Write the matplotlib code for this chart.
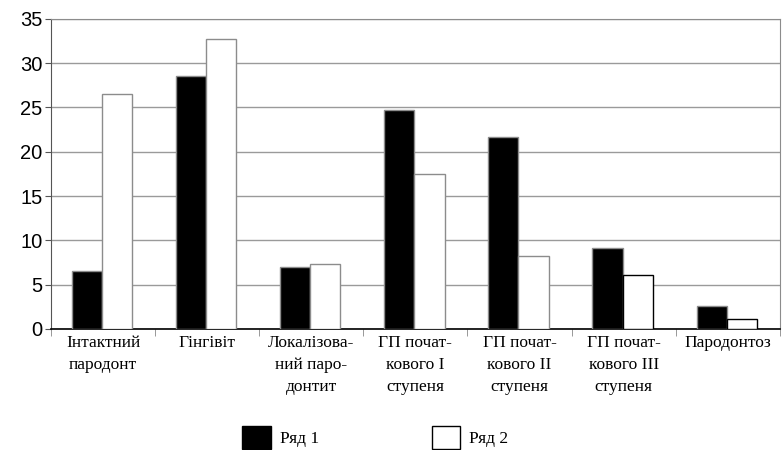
import matplotlib.pyplot as plt
import numpy as np

# дані з діаграми
kategorii = ["Інтактний\nпародонт", "Гінгівіт", "Локалізова-\nний паро-\nдонтит",
             "ГП почат-\nкового I\nступеня", "ГП почат-\nкового II\nступеня",
             "ГП почат-\nкового III\nступеня", "Пародонтоз"]
ryad1 = [6.5, 28.6, 7.0, 24.7, 21.7, 9.1, 2.6]
ryad2 = [26.5, 32.7, 7.3, 17.5, 8.2, 6.1, 1.1]
yticks = [0, 5, 10, 15, 20, 25, 30, 35]

fig = plt.figure(figsize=(7.82, 4.5), dpi=100)
ax = fig.add_axes([0.0652, 0.269, 0.932, 0.689])

x = np.arange(len(kategorii))
w = 0.29
b1 = ax.bar(x - w / 2 - 0.01, ryad1, w, color="black", edgecolor="#8c8c8c", linewidth=1,
            label="Ряд 1", zorder=3)
b2 = ax.bar(x + w / 2 - 0.01, ryad2, w, color="white", edgecolor="#8c8c8c", linewidth=1,
            label="Ряд 2", zorder=3)
b2[5].set_edgecolor("black")
b2[6].set_edgecolor("black")

ax.set_xlim(-0.5, len(kategorii) - 0.5)
ax.set_ylim(0, 35)
ax.set_yticks(yticks)
ax.yaxis.grid(True, color="#9a9a9a", linewidth=1, zorder=0)
ax.tick_params(axis="y", labelsize=14.5, length=4, color="#555555", pad=2,
               labelfontfamily="Liberation Sans")

ax.set_xticks(x)
ax.set_xticklabels(kategorii, family="Liberation Serif", fontsize=12.5, linespacing=1.5,
                   va="top")
ax.set_xticks(np.arange(len(kategorii) + 1) - 0.5, minor=True)
ax.tick_params(axis="x", which="major", length=0, pad=4)
ax.tick_params(axis="x", which="minor", length=5, color="#888888")

for s in ["top", "right"]:
    ax.spines[s].set_color("#8c8c8c")
ax.spines["left"].set_color("#555555")
ax.spines["bottom"].set_color("black")
ax.spines["bottom"].set_linewidth(1.2)

leg = fig.legend(handles=[b1, b2], loc="center", bbox_to_anchor=(0.48, 0.028), ncol=2,
                 frameon=False, prop={"family": "Liberation Serif", "size": 12.5},
                 handlelength=1.65, handleheight=1.65, columnspacing=6.5, handletextpad=0.5)
for h in leg.legend_handles:
    h.set_edgecolor("black")

fig.savefig("out.png", dpi=100)
